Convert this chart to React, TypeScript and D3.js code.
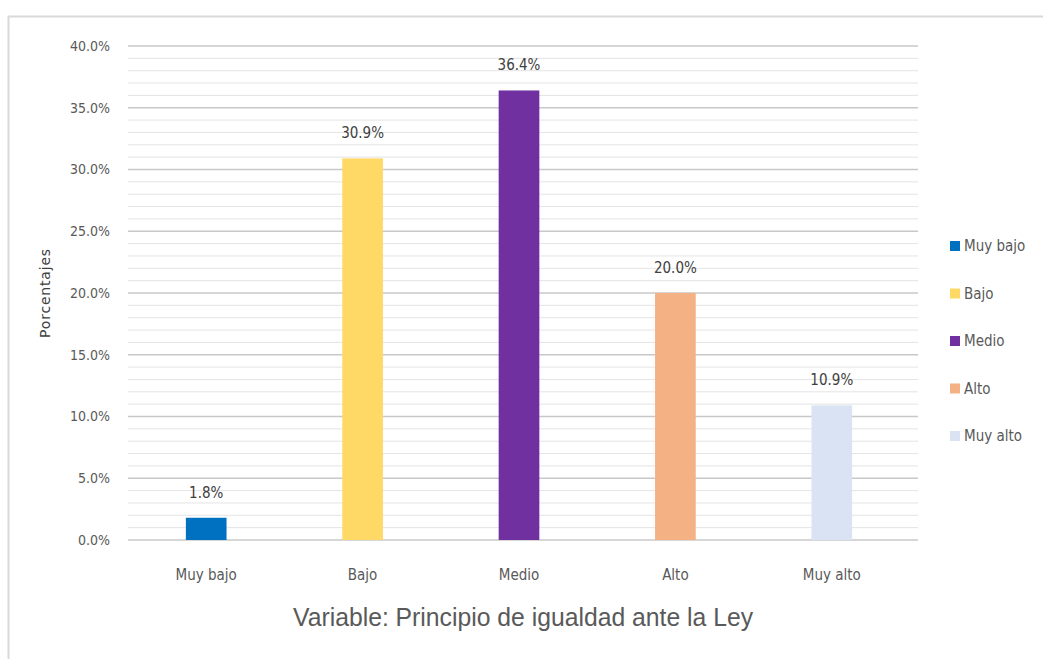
import React from "react";
import * as d3 from "d3";

const categories = ["Muy bajo", "Bajo", "Medio", "Alto", "Muy alto"];
const values = [1.8, 30.9, 36.4, 20.0, 10.9];
const colors = ["#0070C0", "#FFD966", "#7030A0", "#F4B183", "#DAE3F3"];
const majorTicks = [0, 5, 10, 15, 20, 25, 30, 35, 40];
const minorTicks = d3.range(0, 41, 1);

const FONT = "'DejaVu Sans Condensed', 'Liberation Sans', sans-serif";

const App = () => {
  const width = 1043;
  const height = 659;
  const margin = { top: 46, right: 133, bottom: 119, left: 128 };

  const x = d3
    .scaleBand()
    .domain(categories)
    .range([margin.left, width - margin.right])
    .paddingInner(0.74)
    .paddingOuter(0.37);

  const y = d3
    .scaleLinear()
    .domain([0, 40])
    .range([height - margin.bottom, margin.top]);

  const fmt = (v: number) => v.toFixed(1) + "%";

  return (
    <svg
      width={width}
      height={height}
      style={{ position: "absolute", left: 0, top: 0, background: "#fff" }}
    >
      <rect x={0} y={0} width={width} height={height} fill="#fff" />
      <path d={`M8.5,${height} V16.5 H${width}`} fill="none" stroke="#d9d9d9" strokeWidth={2} />

      {minorTicks.map((t) => (
        <line
          key={"m" + t}
          x1={margin.left}
          x2={width - margin.right + 8}
          y1={y(t)}
          y2={y(t)}
          stroke={t % 5 === 0 ? "#c8c8c8" : "#e4e4e4"}
          strokeWidth={t % 5 === 0 ? 1.5 : 1}
        />
      ))}

      {majorTicks.map((t) => (
        <text
          key={"t" + t}
          x={110}
          y={y(t)}
          dy="0.35em"
          textAnchor="end"
          fontFamily={FONT}
          fontSize={14}
          fill="#595959"
        >
          {fmt(t)}
        </text>
      ))}

      <text
        transform={`translate(50,${y(20)}) rotate(-90)`}
        textAnchor="middle"
        fontFamily="'DejaVu Sans', sans-serif"
        fontSize={14}
        letterSpacing={0.8}
        fill="#404040"
      >
        Porcentajes
      </text>

      {categories.map((c, i) => (
        <g key={c}>
          <rect
            x={x(c)}
            y={y(values[i])}
            width={x.bandwidth()}
            height={y(0) - y(values[i])}
            fill={colors[i]}
          />
          <text
            x={(x(c) as number) + x.bandwidth() / 2}
            y={y(values[i]) - 20}
            textAnchor="middle"
            fontFamily={FONT}
            fontSize={15}
            fill="#404040"
          >
            {fmt(values[i])}
          </text>
          <text
            x={(x(c) as number) + x.bandwidth() / 2}
            y={y(0) + 40}
            textAnchor="middle"
            fontFamily={FONT}
            fontSize={15}
            fill="#595959"
          >
            {c}
          </text>
        </g>
      ))}

      <text
        x={523}
        y={626}
        textAnchor="middle"
        fontFamily="'Liberation Sans', Arial, sans-serif"
        fontSize={25}
        textLength={460}
        lengthAdjust="spacingAndGlyphs"
        fill="#595959"
      >
        Variable: Principio de igualdad ante la Ley
      </text>

      {categories.map((c, i) => (
        <g key={"l" + c} transform={`translate(950,${246 + i * 47.5})`}>
          <rect x={0} y={-5} width={10} height={10} fill={colors[i]} />
          <text x={14} y={0} dy="0.35em" fontFamily={FONT} fontSize={15} fill="#595959">
            {c}
          </text>
        </g>
      ))}
    </svg>
  );
};

export default App;
